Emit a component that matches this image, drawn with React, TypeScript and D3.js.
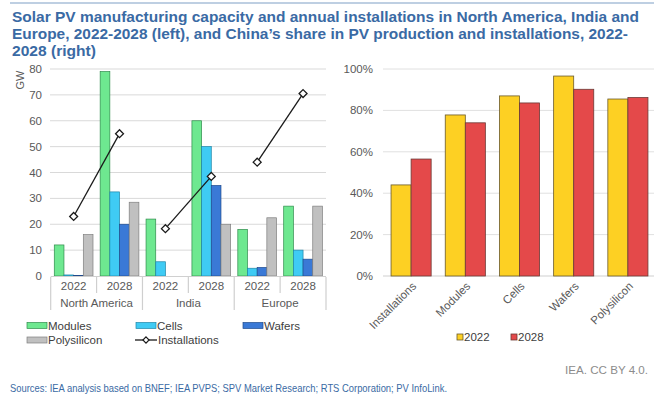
import React from "react";
import * as d3 from "d3";

const groups = ["NA-2022", "NA-2028", "IN-2022", "IN-2028", "EU-2022", "EU-2028"];
const groupYears = ["2022", "2028", "2022", "2028", "2022", "2028"];
const regions = ["North America", "India", "Europe"];
const seriesNames = ["Modules", "Cells", "Wafers", "Polysilicon"];
const modules = [12, 79, 22, 60, 18, 27];
const cells = [0.4, 32.5, 5.5, 50, 3, 10];
const wafers = [0.2, 20, 0, 35, 3.3, 6.5];
const polysilicon = [16, 28.5, 0, 20, 22.5, 27];
const installations = [23, 55, 18.3, 38.5, 44, 70.5];
const leftTicks = [0, 10, 20, 30, 40, 50, 60, 70, 80];

const shareCats = ["Installations", "Modules", "Cells", "Wafers", "Polysilicon"];
const share2022 = [0.44, 0.778, 0.87, 0.966, 0.855];
const share2028 = [0.565, 0.74, 0.836, 0.902, 0.862];
const rightTicks = [0, 0.2, 0.4, 0.6, 0.8, 1.0];

const seriesValues = [modules, cells, wafers, polysilicon];
const seriesFill = ["#6ee890", "#3fcbf4", "#3a79d6", "#c0c0c0"];
const seriesStroke = ["#2f8c4c", "#1e86a8", "#1f4a8c", "#7f7f7f"];
const yearFill = ["#fdd023", "#e4494a"];
const yearStroke = ["#6a5a2c", "#6b3a36"];

const FONT = "'Liberation Sans', Arial, sans-serif";
const AXIS = "#595959";

export default function App() {
  const yL = d3.scaleLinear().domain([0, 80]).range([276, 69]);
  const xG = d3.scaleBand<string>().domain(groups).range([50.7, 326]).paddingInner(0);
  const xS = d3.scaleBand<string>().domain(seriesNames).range([0, xG.bandwidth()]).paddingOuter(0.37);

  const yR = d3.scaleLinear().domain([0, 1]).range([276, 69]);
  const xR = d3.scaleBand<string>().domain(shareCats).range([384, 655]).paddingInner(0.26).paddingOuter(0.13);
  const xY = d3.scaleBand<string>().domain(["2022", "2028"]).range([0, xR.bandwidth()]);

  const diamond = d3.symbol().type(d3.symbolDiamond2 || d3.symbolDiamond).size(40)();

  const instPairs = [0, 1, 2].map((r) => [r * 2, r * 2 + 1]);

  return (
    <svg width={654} height={403} style={{ position: "absolute", left: 0, top: 0, background: "#fff" }} fontFamily={FONT}>
      <line x1={10} x2={654} y1={3} y2={3} stroke="#a9bfd8" strokeWidth={1.5} />
      <g fill="#3a6aa4" fontWeight="bold" fontSize={15.5}>
        <text x={12} y={22} textLength={627} lengthAdjust="spacingAndGlyphs">
          Solar PV manufacturing capacity and annual installations in North America, India and
        </text>
        <text x={12} y={39} textLength={616} lengthAdjust="spacingAndGlyphs">
          Europe, 2022-2028 (left), and China’s share in PV production and installations, 2022-
        </text>
        <text x={12} y={56} textLength={84} lengthAdjust="spacingAndGlyphs">
          2028 (right)
        </text>
      </g>

      {/* Left chart */}
      <g>
        {leftTicks.map((t) => (
          <g key={t}>
            {t > 0 && <line x1={50} x2={326} y1={yL(t)} y2={yL(t)} stroke="#d9d9d9" strokeWidth={1} />}
            <text x={42} y={yL(t)} dy="0.35em" textAnchor="end" fontSize={11.5} fill={AXIS}>{t}</text>
          </g>
        ))}
        <text transform={`translate(24,80) rotate(-90)`} textAnchor="middle" fontSize={11} fill={AXIS}>GW</text>
        {groups.map((g, gi) => (
          <g key={g} transform={`translate(${xG(g)},0)`}>
            {seriesNames.map((s, si) => {
              const v = seriesValues[si][gi];
              if (v <= 0) return null;
              return (
                <rect key={s} x={xS(s)} y={yL(v)} width={xS.bandwidth()} height={yL(0) - yL(v)}
                  fill={seriesFill[si]} stroke={seriesStroke[si]} strokeWidth={0.7} />
              );
            })}
          </g>
        ))}
        <line x1={50.7} x2={326} y1={276.5} y2={276.5} stroke="#d0d0d0" />
        {groups.map((g, gi) => (
          <g key={"lab" + g}>
            <text x={(xG(g) as number) + xG.bandwidth() / 2} y={290} textAnchor="middle" fontSize={11.5} fill={AXIS}>{groupYears[gi]}</text>
            {gi % 2 === 1 && (
              <line x1={xG(g)} x2={xG(g)} y1={277} y2={293} stroke="#cfcfcf" strokeWidth={1.2} />
            )}
          </g>
        ))}
        {[0, 1, 2, 3].map((i) => {
          const x = i < 3 ? (xG(groups[i * 2]) as number) : 326;
          return <line key={"sep" + i} x1={x} x2={x} y1={277} y2={310} stroke="#cfcfcf" strokeWidth={1.2} />;
        })}
        {regions.map((r, ri) => (
          <text key={r} x={(xG(groups[ri * 2 + 1]) as number)} y={307} textAnchor="middle" fontSize={11.5} fill={AXIS}>{r}</text>
        ))}
        {instPairs.map((p, pi) => {
          const d = d3.line<number>()
            .x((gi) => (xG(groups[gi]) as number) + xG.bandwidth() / 2)
            .y((gi) => yL(installations[gi]))(p);
          return <path key={"il" + pi} d={d || ""} fill="none" stroke="#1a1a1a" strokeWidth={1.3} />;
        })}
        {groups.map((g, gi) => (
          <path key={"mk" + g} d={diamond || ""}
            transform={`translate(${(xG(g) as number) + xG.bandwidth() / 2},${yL(installations[gi])})`}
            fill="#fff" stroke="#1a1a1a" strokeWidth={1.3} />
        ))}
      </g>

      {/* Left legend */}
      <g fontSize={11.5} fill="#404040">
        {[
          { n: "Modules", x: 27, y: 325.5, i: 0 },
          { n: "Cells", x: 136, y: 325.5, i: 1 },
          { n: "Wafers", x: 243, y: 325.5, i: 2 },
          { n: "Polysilicon", x: 27, y: 340, i: 3 },
        ].map((l) => (
          <g key={l.n}>
            <rect x={l.x} y={l.y - 3} width={20} height={6} fill={seriesFill[l.i]} stroke={seriesStroke[l.i]} strokeWidth={0.7} />
            <text x={l.x + 21} y={l.y} dy="0.35em" fill="#404040">{l.n}</text>
          </g>
        ))}
        <line x1={135} x2={157} y1={340} y2={340} stroke="#1a1a1a" strokeWidth={1.3} />
        <path d={d3.symbol().type(d3.symbolDiamond2 || d3.symbolDiamond).size(24)() || ""} transform="translate(146,340)" fill="#fff" stroke="#1a1a1a" strokeWidth={1.2} />
        <text x={158} y={340} dy="0.35em" fill="#404040">Installations</text>
      </g>

      {/* Right chart */}
      <g>
        {rightTicks.map((t) => (
          <g key={t}>
            <line x1={383} x2={654} y1={yR(t)} y2={yR(t)} stroke={t === 0 ? "#cfcfcf" : "#e0e0e0"} strokeWidth={1} />
            <text x={373} y={yR(t)} dy="0.35em" textAnchor="end" fontSize={11.5} fill={AXIS}>{d3.format(".0%")(t)}</text>
          </g>
        ))}
        {shareCats.map((c, ci) => (
          <g key={c} transform={`translate(${xR(c)},0)`}>
            {[share2022[ci], share2028[ci]].map((v, yi) => (
              <rect key={yi} x={xY(yi === 0 ? "2022" : "2028")} y={yR(v)} width={xY.bandwidth()} height={yR(0) - yR(v)}
                fill={yearFill[yi]} stroke={yearStroke[yi]} strokeWidth={0.8} />
            ))}
            <text transform={`translate(${xR.bandwidth() / 2 + 3},284) rotate(-45)`} textAnchor="end" dy="0.35em" fontSize={11.5} fill={AXIS}>{c}</text>
          </g>
        ))}
      </g>

      {/* Right legend */}
      <g fontSize={11.5}>
        {["2022", "2028"].map((yv, i) => (
          <g key={yv}>
            <rect x={457 + i * 54} y={334} width={6} height={6} fill={yearFill[i]} stroke={yearStroke[i]} strokeWidth={0.8} />
            <text x={464 + i * 54} y={337} dy="0.35em" fill="#404040">{yv}</text>
          </g>
        ))}
      </g>

      <text x={565} y={370} dy="0.35em" fontSize={11.5} fill="#8c8c8c" textLength={83} lengthAdjust="spacingAndGlyphs">IEA. CC BY 4.0.</text>
      <text x={10} y={388} dy="0.35em" fontSize={11} fill="#3a6aa4" textLength={437} lengthAdjust="spacingAndGlyphs">
        Sources: IEA analysis based on BNEF; IEA PVPS; SPV Market Research; RTS Corporation; PV InfoLink.
      </text>
    </svg>
  );
}
